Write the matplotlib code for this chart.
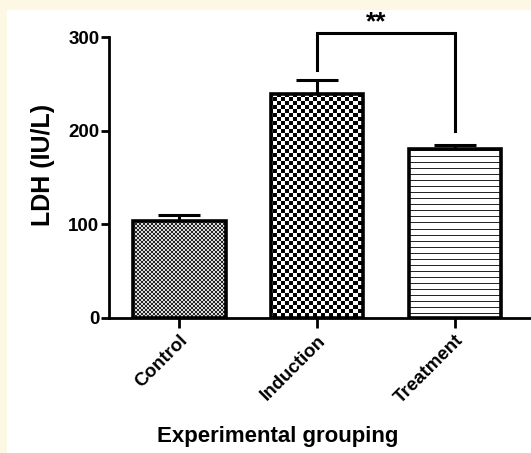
#!/usr/bin/env python3
"""
LDH por grupo experimental (barras con textura, estilo GraphPad)
"""

import numpy as np
import matplotlib
matplotlib.use('Agg')
import matplotlib.pyplot as plt
from matplotlib.patches import Rectangle

grupos = ['Control', 'Induction', 'Treatment']
ldh = [103.5, 239, 180.5]
ldh_err = [6, 15, 4.5]
texturas = ['fino', 'tablero', 'rayas']

signif = '**'
signif_par = (1, 2)
signif_y = 304
signif_pies = (265, 200)

plt.rcParams['font.family'] = ['Liberation Sans', 'DejaVu Sans']
plt.rcParams['font.weight'] = 'bold'

W, H = 531, 453
fig = plt.figure(figsize=(W / 100, H / 100), dpi=100, facecolor='#fdf8e4')
fig.patches.append(Rectangle((7 / W, 0), 1, (H - 10) / H, transform=fig.transFigure,
                             facecolor='white', edgecolor='none', zorder=-5))

# ejes en pixeles: x 109..531, y (desde arriba) 37..318
ax_l, ax_r, ax_t, ax_b = 109, 531, 37, 318
ax = fig.add_axes([ax_l / W, (H - ax_b) / H, (ax_r - ax_l) / W, (ax_b - ax_t) / H])
ax.set_facecolor('none')

x = np.arange(len(grupos))
xlim = (-0.51, 2.55)
ax.set_xlim(*xlim)
ax.set_ylim(0, 300)

bars = ax.bar(x, ldh, width=0.67, color='white', edgecolor='black', linewidth=2.6, zorder=3)
for bar in bars:
    bar.set_facecolor('none')
ax.errorbar(x, ldh, yerr=[[0] * len(ldh), ldh_err], fmt='none', ecolor='black',
            elinewidth=2.2, capsize=15, capthick=2.2, zorder=2)

# texturas como imagen recortada a cada barra
npx_w, npx_h = ax_r - ax_l, ax_b - ax_t
jj, ii = np.meshgrid(np.arange(npx_w), np.arange(npx_h))
patrones = {
    'fino': np.where(((ii // 2) + (jj // 2)) % 2 == 0, 0.15, 0.85),
    'tablero': np.where(((ii // 4) + (jj // 4)) % 2 == 0, 0.0, 1.0),
    'rayas': np.where(ii % 6 == 0, 0.15, 1.0),
}
for bar, tex in zip(bars, texturas):
    im = ax.imshow(patrones[tex], cmap='gray', vmin=0, vmax=1, extent=(*xlim, 0, 300),
                   origin='upper', interpolation='nearest', aspect='auto', zorder=2.5)
    im.set_clip_path(bar)
ax.set_xlim(*xlim)
ax.set_ylim(0, 300)

# corchete de significancia
a, b = signif_par
ax.plot([a, a, b, b], [signif_pies[0], signif_y, signif_y, signif_pies[1]],
        color='black', lw=2.2, clip_on=False, solid_joinstyle='miter')
ax.text((a + b) / 2 - 0.07, signif_y - 1, signif, ha='center', va='bottom',
        fontsize=19, fontweight='bold', clip_on=False)

for s in ['top', 'right']:
    ax.spines[s].set_visible(False)
for s in ['left', 'bottom']:
    ax.spines[s].set_linewidth(2.0)

ax.set_yticks([0, 100, 200, 300])
ax.tick_params(axis='y', length=6, width=2.0, labelsize=13.5, pad=1)
ax.tick_params(axis='x', length=7, width=2.0, labelsize=13.5, pad=3)
ax.set_xticks(x)
ax.set_xticklabels(grupos, rotation=45, ha='right', rotation_mode='anchor')

ax.set_ylabel('LDH (IU/L)', fontsize=18, fontweight='bold')
ax.yaxis.set_label_coords(-0.128, 0.545)
ax.set_xlabel('Experimental grouping', fontsize=16, fontweight='bold')
ax.xaxis.set_label_coords(0.40, -0.385)

plt.savefig('out.png', dpi=100, facecolor=fig.get_facecolor())
plt.close()
print("Guardado: out.png")
